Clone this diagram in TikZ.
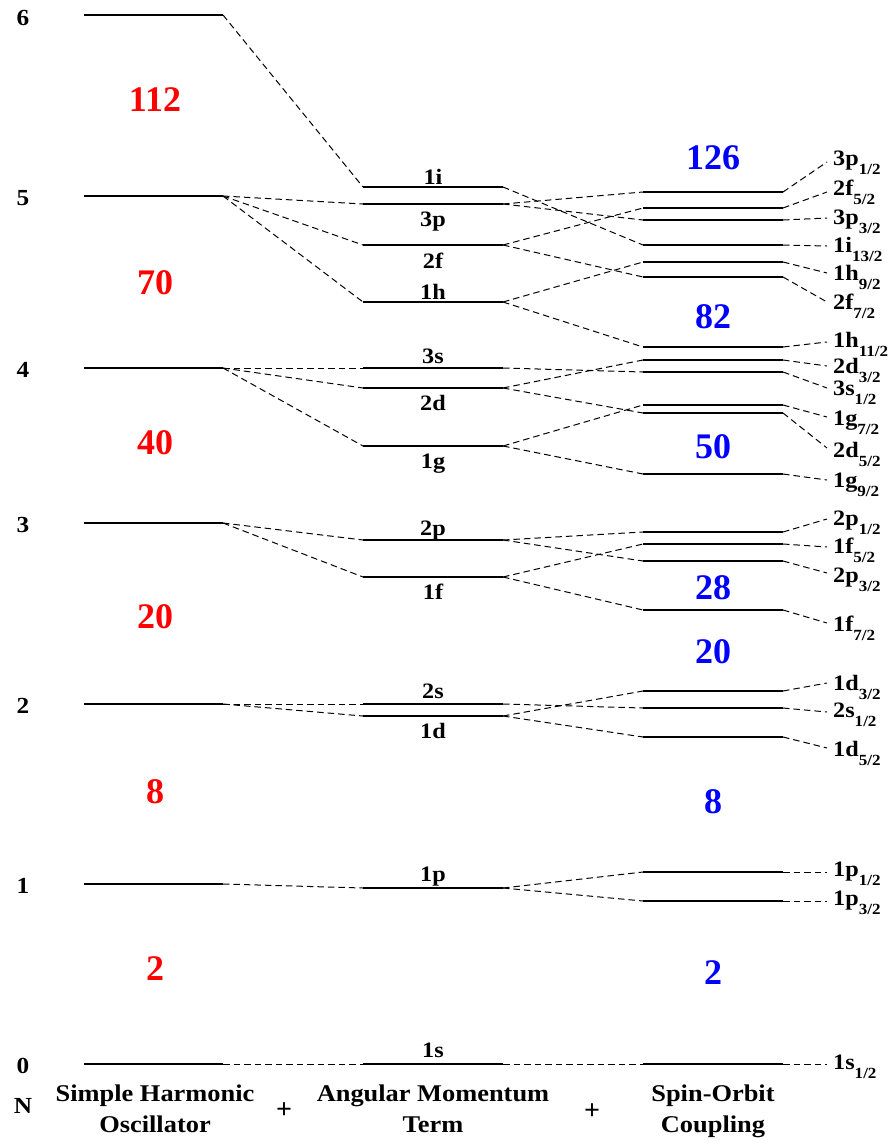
\documentclass[tikz,border=0pt]{standalone}
\usepackage{fontspec}
\setmainfont{Liberation Serif}
\newfontfamily\wide{Liberation Serif}[FakeStretch=1.1]
\newcommand\sbs[1]{\raisebox{-9pt}{\fontsize{15.5}{15.5}\selectfont #1}}
\newcommand\lvlline[4]{\coordinate (#1L) at (#2,#4); \coordinate (#1R) at (#3,#4); \draw[lvl] (#1L) -- (#1R);}
\newcommand\mlev[4]{\coordinate (#1L) at (363,#2); \coordinate (#1R) at (503,#2); \draw[lvl] (#1L) -- (#1R);
  \node[lab, anchor=base] (#1T) at (433,#3) {#4};}
\newcommand\rlev[6]{\coordinate (#1L) at (643,#2); \coordinate (#1R) at (783,#2); \draw[lvl] (#1L) -- (#1R);
  \coordinate (#1E) at (827,#3); \draw[conn] (#1R) -- (#1E);
  \node[lab, anchor=base west] (#1T) at (833,#4) {#5\sbs{#6}};}
\begin{document}
\begin{tikzpicture}[x=1pt,y=-1pt,
  lvl/.style={line width=1.5pt},
  conn/.style={line width=1pt, dash pattern=on 6.5pt off 4pt},
  lab/.style={font=\wide\bfseries\fontsize{22}{22}\selectfont, inner sep=0pt},
  nlab/.style={font=\wide\bfseries\fontsize{23}{23}\selectfont, inner sep=0pt},
  plus/.style={font=\bfseries\fontsize{28}{28}\selectfont, inner sep=0pt},
  big/.style={font=\bfseries\fontsize{36}{36}\selectfont, inner sep=0pt},
  foot/.style={font=\wide\bfseries\fontsize{24}{31}\selectfont, inner sep=0pt, align=center, anchor=north}]
\fill[white] (0,0) rectangle (892,1144);
\path[use as bounding box] (0,0) rectangle (892,1144);

% Simple harmonic oscillator levels
\lvlline{n0}{84}{223}{1064}
\lvlline{n1}{84}{223}{884}
\lvlline{n2}{84}{223}{704}
\lvlline{n3}{84}{223}{523}
\lvlline{n4}{84}{223}{368}
\lvlline{n5}{84}{223}{196}
\lvlline{n6}{84}{223}{15}
\node[nlab] (N0) at (23,1066) {0};
\node[nlab] (N1) at (23,886) {1};
\node[nlab] (N2) at (23,706) {2};
\node[nlab] (N3) at (23,525) {3};
\node[nlab] (N4) at (23,370) {4};
\node[nlab] (N5) at (23,198) {5};
\node[nlab] (N6) at (23,18) {6};
\node[nlab] (Nlab) at (23,1106) {N};

% Angular momentum levels
\mlev{m1i}{187}{184}{1i}
\mlev{m3p}{204}{226}{3p}
\mlev{m2f}{245}{268}{2f}
\mlev{m1h}{302}{299}{1h}
\mlev{m3s}{368}{363}{3s}
\mlev{m2d}{388}{410}{2d}
\mlev{m1g}{446}{468}{1g}
\mlev{m2p}{540}{535}{2p}
\mlev{m1f}{577}{599}{1f}
\mlev{m2s}{704}{698}{2s}
\mlev{m1d}{716}{738}{1d}
\mlev{m1p}{888}{881}{1p}
\mlev{m1s}{1064}{1057}{1s}

% Spin-orbit levels
\rlev{r3p12}{192}{162}{165}{3p}{1/2}
\rlev{r2f52}{208}{192}{195}{2f}{5/2}
\rlev{r3p32}{220}{218}{224}{3p}{3/2}
\rlev{r1i132}{245}{246}{252}{1i}{13/2}
\rlev{r1h92}{262}{273}{280}{1h}{9/2}
\rlev{r2f72}{277}{302}{309}{2f}{7/2}
\rlev{r1h112}{347}{342}{347}{1h}{11/2}
\rlev{r2d32}{360}{366}{373}{2d}{3/2}
\rlev{r3s12}{372}{388}{395}{3s}{1/2}
\rlev{r1g72}{405}{417}{425}{1g}{7/2}
\rlev{r2d52}{413}{448}{457}{2d}{5/2}
\rlev{r1g92}{474}{480}{487}{1g}{9/2}
\rlev{r2p12}{532}{519}{525}{2p}{1/2}
\rlev{r1f52}{544}{547}{553}{1f}{5/2}
\rlev{r2p32}{561}{573}{582}{2p}{3/2}
\rlev{r1f72}{610}{623}{631}{1f}{7/2}
\rlev{r1d32}{691}{683}{690}{1d}{3/2}
\rlev{r2s12}{708}{712}{717}{2s}{1/2}
\rlev{r1d52}{737}{748}{756}{1d}{5/2}
\rlev{r1p12}{872}{872}{876}{1p}{1/2}
\rlev{r1p32}{901}{901}{905}{1p}{3/2}
\rlev{r1s12}{1064}{1064}{1069}{1s}{1/2}

% SHO -> angular momentum
\draw[conn] (n6R) -- (m1iL);
\draw[conn] (n5R) -- (m3pL);
\draw[conn] (n5R) -- (m2fL);
\draw[conn] (n5R) -- (m1hL);
\draw[conn] (n4R) -- (m3sL);
\draw[conn] (n4R) -- (m2dL);
\draw[conn] (n4R) -- (m1gL);
\draw[conn] (n3R) -- (m2pL);
\draw[conn] (n3R) -- (m1fL);
\draw[conn] (n2R) -- (m2sL);
\draw[conn] (n2R) -- (m1dL);
\draw[conn] (n1R) -- (m1pL);
\draw[conn] (n0R) -- (m1sL);

% angular momentum -> spin-orbit
\draw[conn] (m1iR) -- (r1i132L);
\draw[conn] (m3pR) -- (r3p12L);
\draw[conn] (m3pR) -- (r3p32L);
\draw[conn] (m2fR) -- (r2f52L);
\draw[conn] (m2fR) -- (r2f72L);
\draw[conn] (m1hR) -- (r1h92L);
\draw[conn] (m1hR) -- (r1h112L);
\draw[conn] (m3sR) -- (r3s12L);
\draw[conn] (m2dR) -- (r2d32L);
\draw[conn] (m2dR) -- (r2d52L);
\draw[conn] (m1gR) -- (r1g72L);
\draw[conn] (m1gR) -- (r1g92L);
\draw[conn] (m2pR) -- (r2p12L);
\draw[conn] (m2pR) -- (r2p32L);
\draw[conn] (m1fR) -- (r1f52L);
\draw[conn] (m1fR) -- (r1f72L);
\draw[conn] (m2sR) -- (r2s12L);
\draw[conn] (m1dR) -- (r1d32L);
\draw[conn] (m1dR) -- (r1d52L);
\draw[conn] (m1pR) -- (r1p12L);
\draw[conn] (m1pR) -- (r1p32L);
\draw[conn] (m1sR) -- (r1s12L);

% magic numbers
\node[big, red] (h112) at (155,100) {112};
\node[big, red] (h70) at (155,283) {70};
\node[big, red] (h40) at (155,443) {40};
\node[big, red] (h20) at (155,617) {20};
\node[big, red] (h8) at (155,792) {8};
\node[big, red] (h2) at (155,969) {2};
\node[big, blue] (s126) at (713,158) {126};
\node[big, blue] (s82) at (713,317) {82};
\node[big, blue] (s50) at (713,447) {50};
\node[big, blue] (s28) at (713,588) {28};
\node[big, blue] (s20) at (713,652) {20};
\node[big, blue] (s8) at (713,802) {8};
\node[big, blue] (s2) at (713,973) {2};

% footer
\node[foot] (fSHO) at (155,1085) {Simple Harmonic\\Oscillator};
\node[foot] (fAM) at (433,1085) {Angular Momentum\\Term};
\node[foot] (fSO) at (713,1085) {Spin-Orbit\\Coupling};
\node[plus] (plus1) at (284,1111) {+};
\node[plus] (plus2) at (592,1112) {+};
\end{tikzpicture}
\end{document}
